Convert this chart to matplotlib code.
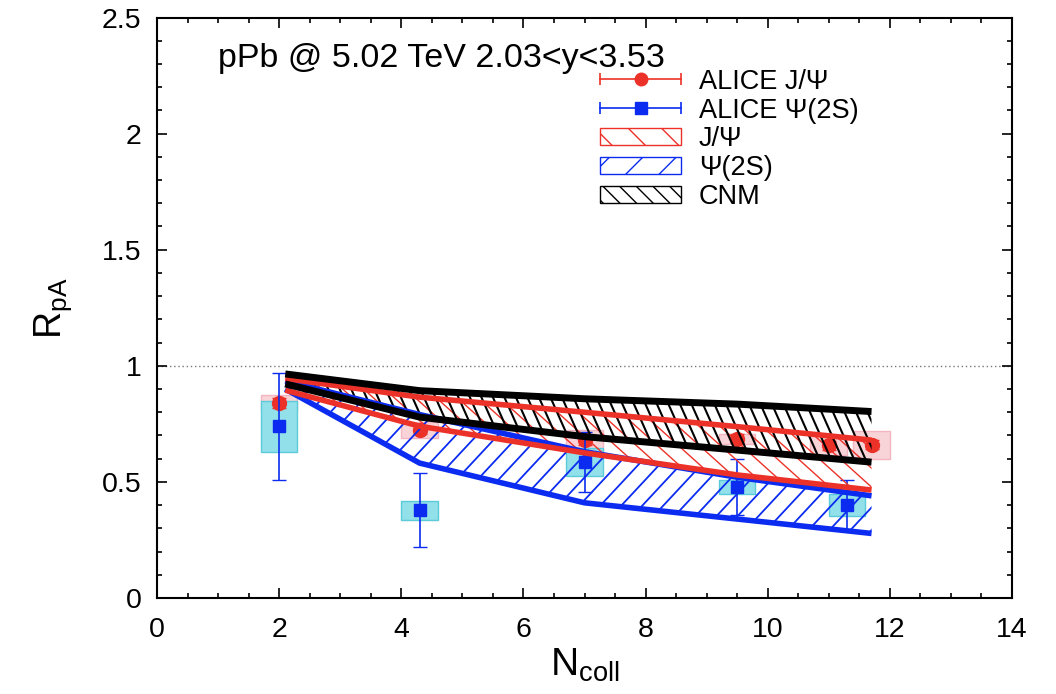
import numpy as np
import matplotlib
matplotlib.use("Agg")
from matplotlib import pyplot as plt
from matplotlib.lines import Line2D
from matplotlib.patches import Patch, Rectangle
from matplotlib.collections import LineCollection
from matplotlib.legend_handler import HandlerBase
from matplotlib.ticker import MultipleLocator, FuncFormatter

plt.rcParams["font.family"] = ["Liberation Sans", "DejaVu Sans"]
plt.rcParams["mathtext.fontset"] = "custom"
plt.rcParams["mathtext.rm"] = "Liberation Sans"
plt.rcParams["mathtext.default"] = "regular"
plt.rcParams["hatch.linewidth"] = 1.0

# ALICE J/psi
ncoll_jpsi = [2.0, 4.3, 7.0, 9.5, 11.0, 11.7]
rpa_jpsi = [0.84, 0.725, 0.68, 0.686, 0.657, 0.66]
stat_jpsi = [0.02, 0.02, 0.02, 0.02, 0.02, 0.02]
sys_jpsi = [0.035, 0.035, 0.045, 0.022, 0.04, 0.06]

# ALICE psi(2S)
ncoll_psi = [2.0, 4.3, 7.0, 9.5, 11.3]
rpa_psi = [0.74, 0.378, 0.585, 0.478, 0.40]
stat_psi = [0.23, 0.16, 0.13, 0.12, 0.107]
sys_psi = [0.11, 0.04, 0.06, 0.03, 0.046]

# model bands
ncoll_model = [2.1, 4.3, 7.0, 9.5, 11.7]
jpsi_hi = [0.945, 0.865, 0.80, 0.738, 0.68]
jpsi_lo = [0.895, 0.74, 0.625, 0.53, 0.465]
psi_hi = [0.935, 0.79, 0.63, 0.52, 0.44]
psi_lo = [0.90, 0.581, 0.41, 0.34, 0.278]
cnm_hi = [0.965, 0.893, 0.858, 0.835, 0.803]
cnm_lo = [0.922, 0.779, 0.695, 0.637, 0.585]

RED = "#ec3228"
BLUE = "#0b2cf0"
box_hw = 0.3


class HandlerLep(HandlerBase):
    # horizontal line with end caps and a marker in the middle
    def create_artists(self, legend, orig, xdescent, ydescent, width, height, fontsize, trans):
        y = height / 2 - ydescent
        x0, x1 = -xdescent, width - xdescent
        c = orig.get_color()
        bar = Line2D([x0, x1], [y, y], color=c, lw=1.2)
        caps = Line2D([x0, x1], [y, y], color=c, lw=0, marker="|", ms=9, mew=1.2)
        mk = Line2D([(x0 + x1) / 2], [y], color=c, lw=0, marker=orig.get_marker(),
                    ms=orig.get_markersize())
        for a in (bar, caps, mk):
            a.set_transform(trans)
        return [bar, caps, mk]


def hatch_band(ax, x, lo, hi, color, angle, spacing, lw, zorder):
    poly = ax.fill_between(x, lo, hi, facecolor="none", edgecolor="none", zorder=zorder)
    pts = ax.transData.transform(np.column_stack([np.r_[x, x], np.r_[lo, hi]]))
    xmin, ymin = pts.min(axis=0) - 5
    xmax, ymax = pts.max(axis=0) + 5
    t = np.tan(np.radians(abs(angle)))
    h = ymax - ymin
    sgn = 1 if angle > 0 else -1
    segs = []
    for x0 in np.arange(xmin - h / t - spacing, xmax + h / t + spacing, spacing):
        p0 = (x0, ymin)
        p1 = (x0 + sgn * h / t, ymax)
        segs.append(ax.transData.inverted().transform([p0, p1]))
    lc = LineCollection(segs, colors=color, linewidths=lw, zorder=zorder)
    ax.add_collection(lc)
    lc.set_clip_path(poly.get_paths()[0], ax.transData)
    return poly


fig = plt.figure(figsize=(10.56, 6.94), dpi=100)
ax = fig.add_axes([157 / 1056, 1 - 598 / 694, (1012 - 157) / 1056, (598 - 17.5) / 694])
ax.set_xlim(0, 14)
ax.set_ylim(0, 2.5)

ax.axhline(1, color="#777777", ls=(0, (1, 2)), lw=1.0, zorder=0)

# systematic boxes
for x, y, s in zip(ncoll_jpsi, rpa_jpsi, sys_jpsi):
    ax.add_patch(Rectangle((x - box_hw, y - s), 2 * box_hw, 2 * s, facecolor="#f8d3d8",
                           edgecolor="#f3b6bf", lw=1, zorder=1))
for x, y, s in zip(ncoll_psi, rpa_psi, sys_psi):
    ax.add_patch(Rectangle((x - box_hw, y - s), 2 * box_hw, 2 * s, facecolor="#92e0ea",
                           edgecolor="#5ccbd9", lw=1, zorder=1.1))

ax.errorbar(ncoll_jpsi, rpa_jpsi, yerr=stat_jpsi, fmt="o", color=RED, ms=10,
            capsize=5, elinewidth=1.2, zorder=2)
ax.errorbar(ncoll_psi, rpa_psi, yerr=stat_psi, fmt="s", color=BLUE, ms=9,
            capsize=5, elinewidth=1.2, zorder=2.1)

# model bands: hatch then edges
hatch_band(ax, ncoll_model, jpsi_lo, jpsi_hi, RED, -42, 21, 1.0, 3)
hatch_band(ax, ncoll_model, psi_lo, psi_hi, BLUE, 47, 21, 1.3, 3)
hatch_band(ax, ncoll_model, cnm_lo, cnm_hi, "black", -66, 11.5, 1.5, 3.2)
for lo, hi, c, w in [(psi_lo, psi_hi, BLUE, 4.0), (jpsi_lo, jpsi_hi, RED, 4.0),
                     (cnm_lo, cnm_hi, "black", 5.0)]:
    ax.plot(ncoll_model, lo, color=c, lw=w, solid_capstyle="butt", zorder=4)
    ax.plot(ncoll_model, hi, color=c, lw=w, solid_capstyle="butt", zorder=4)

ax.xaxis.set_major_locator(MultipleLocator(2))
ax.xaxis.set_minor_locator(MultipleLocator(0.5))
ax.yaxis.set_major_locator(MultipleLocator(0.5))
ax.yaxis.set_minor_locator(MultipleLocator(0.1))
ax.yaxis.set_major_formatter(FuncFormatter(lambda v, p: "%g" % v))
ax.tick_params(which="both", direction="in", top=True, right=True, width=1.2,
               labelsize=20.5, pad=11)
ax.tick_params(axis="x", which="both", pad=14)
ax.tick_params(which="major", length=7)
ax.tick_params(which="minor", length=3.5)
for sp in ax.spines.values():
    sp.set_linewidth(1.5)

ax.set_xlabel("$N_{coll}$", fontsize=28, labelpad=2)
ax.set_ylabel("$R_{pA}$", fontsize=27, labelpad=20)

fig.text(218 / 1056, 1 - 67 / 694, "pPb @ 5.02 TeV 2.03<y<3.53", fontsize=24.5,
         va="baseline", ha="left")

h_jpsi = Line2D([], [], color=RED, marker="o", ms=9)
h_psi = Line2D([], [], color=BLUE, marker="s", ms=8)
handles = [h_jpsi, h_psi,
           Patch(facecolor="white", edgecolor=RED, hatch="\\"),
           Patch(facecolor="white", edgecolor=BLUE, hatch="/"),
           Patch(facecolor="white", edgecolor="black", hatch="\\\\")]
labels = ["ALICE J/\u03a8", "ALICE \u03a8(2S)", "J/\u03a8", "\u03a8(2S)", "CNM"]
leg = ax.legend(handles, labels, loc="upper left",
                bbox_to_anchor=(600 / 1056, 1 - 69 / 694), bbox_transform=fig.transFigure,
                frameon=False, fontsize=19.5, handlelength=3.0,
                handleheight=0.6, handletextpad=0.65, labelspacing=0.1, borderpad=0,
                borderaxespad=0, handler_map={h_jpsi: HandlerLep(), h_psi: HandlerLep()})

fig.savefig("out.png", dpi=100)
